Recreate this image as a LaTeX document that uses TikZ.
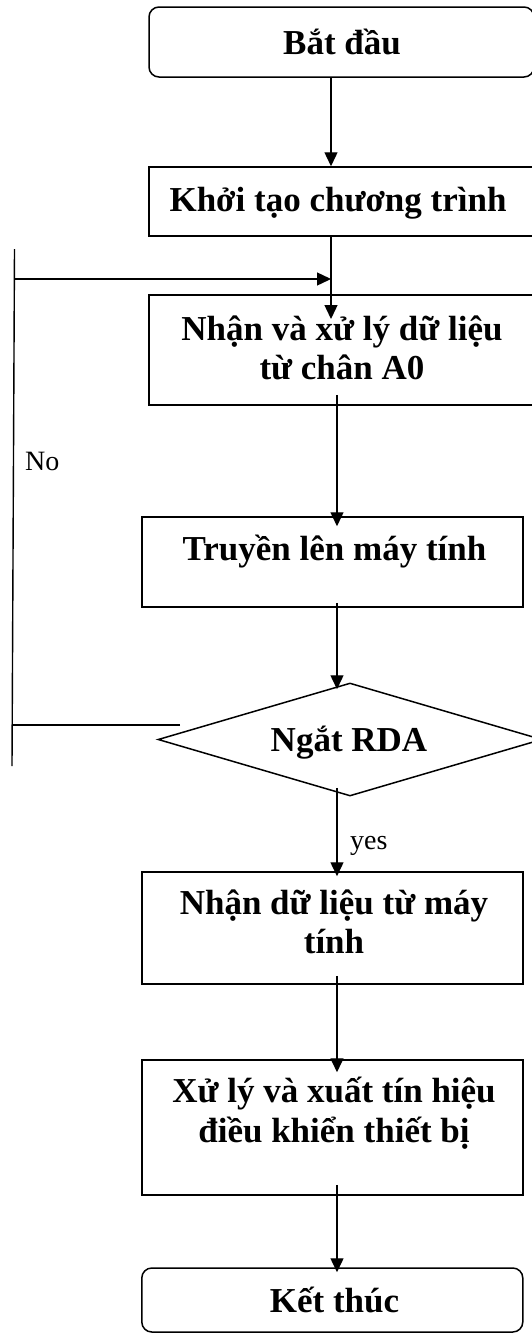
\documentclass[tikz,border=0pt]{standalone}
\usepackage{fontspec}
\setmainfont{Liberation Serif}
\usetikzlibrary{shapes.geometric,arrows.meta,calc}
\begin{document}
\begin{tikzpicture}[x=1pt,y=-1pt,
  box/.style={draw, fill=white, line width=1.5pt, inner sep=0pt},
  rbox/.style={box, rounded corners=10pt},
  decision/.style={draw, fill=white, line width=1.5pt, diamond, inner sep=0pt},
  title/.style={font=\bfseries\fontsize{35}{39}\selectfont, inner sep=0pt, anchor=base, align=center},
  tag/.style={font=\fontsize{28}{32}\selectfont, inner sep=0pt, anchor=base west},
  wire/.style={line width=1.4pt},
  arr/.style={wire, -{Triangle[length=14pt,width=13pt]}}
]
\useasboundingbox (0,0) rectangle (532,1334);
\clip (0,0) rectangle (532,1334);

% process boxes
\node[rbox, minimum width=385pt, minimum height=70pt] (start) at (341.5,42) {};
\node[box, minimum width=396pt, minimum height=69pt] (khoi) at (347,201.5) {};
\node[box, minimum width=396pt, minimum height=110pt] (nhan) at (347,350) {};
\node[box, minimum width=381pt, minimum height=90pt] (truyen) at (332.3,562) {};
\node[decision, minimum width=384pt, minimum height=113pt] (ngat) at (350,739.5) {};
\node[box, minimum width=381pt, minimum height=112pt] (nhandl) at (332.3,928) {};
\node[box, minimum width=381pt, minimum height=135pt] (xuly) at (332.3,1127.5) {};
\node[rbox, minimum width=381pt, minimum height=64pt] (ket) at (332.3,1300) {};

% box texts
\node[title] (tstart) at (342,54) {Bắt đầu};
\node[title] (tkhoi) at (338,211) {Khởi tạo chương trình};
\node[title] (tnhan1) at (342,340) {Nhận và xử lý dữ liệu};
\node[title] (tnhan2) at (342,379) {từ chân A0};
\node[title] (ttruyen) at (334.5,560) {Truyền lên máy tính};
\node[title] (tngat) at (349,751) {Ngắt RDA};
\node[title] (tnhandl1) at (334,914) {Nhận dữ liệu từ máy};
\node[title] (tnhandl2) at (334,953) {tính};
\node[title] (txuly1) at (334,1102) {Xử lý và xuất tín hiệu};
\node[title] (txuly2) at (334,1142) {điều khiển thiết bị};
\node[title] (tket) at (334.5,1312) {Kết thúc};

% branch labels
\node[tag] (no) at (25,470) {No};
\node[tag] (yes) at (350,849) {yes};

% connector columns
\coordinate (ux) at (331,0);
\coordinate (lx) at (337,0);

% main flow, upper part
\draw[arr] (start.south -| ux) -- (khoi.north -| ux);
\coordinate (t1) at (331,319);
\draw[arr] (khoi.south -| ux) -- (t1);

% loop back when no interrupt
\coordinate (fbtop) at (14.5,249);
\coordinate (fbbot) at (12,766);
\coordinate (fbin) at (331,279);
\coordinate (nofrom) at (180,725);
\draw[wire] (fbtop) -- (fbbot);
\draw[arr] (14.2,279) -- (fbin);
\draw[wire] (nofrom) -- (12.2,725);

% main flow, lower part
\draw[arr] ($(nhan.south -| lx)+(0,-11)$) -- ($(truyen.north -| lx)+(0,10)$);
\draw[arr] ($(truyen.south -| lx)+(0,-5)$) -- ($(ngat.north -| lx)+(0,7)$);
\draw[arr] ($(ngat.south -| lx)+(0,-9)$) -- ($(nhandl.north -| lx)+(0,5)$);
\draw[arr] ($(nhandl.south -| lx)+(0,-9)$) -- ($(xuly.north -| lx)+(0,13)$);
\draw[arr] ($(xuly.south -| lx)+(0,-11)$) -- ($(ket.north -| lx)+(0,5)$);
\end{tikzpicture}
\end{document}
